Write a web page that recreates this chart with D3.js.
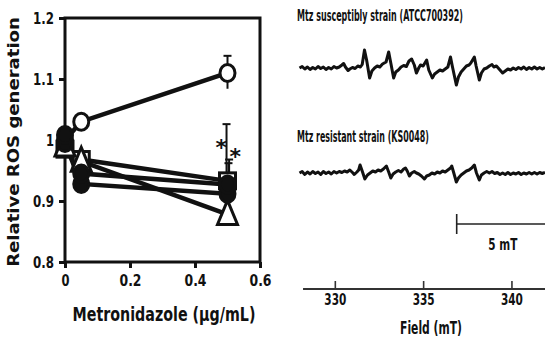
<!DOCTYPE html>
<html>
<head>
<meta charset="utf-8">
<script src="https://cdn.jsdelivr.net/npm/d3@7"></script>
<style>
  body { margin: 0; background: #fff; }
  svg { display: block; }
  text { font-family: "DejaVu Sans", Verdana, sans-serif; font-weight: bold; fill: #111; }
</style>
</head>
<body>
<div id="chart"></div>
<script>
// ---- left panel: ROS generation vs metronidazole ----
const doses = [0, 0.05, 0.5];
const openCircle = [1.0, 1.03, 1.11];
const openSquare = [0.985, 0.968, 0.933];
const openTriangle = [0.99, 0.965, 0.878];
const filledCircleB = [0.995, 0.928, 0.912];
const filledCircle = [1.008, 0.945, 0.927];
// error bars at 0.5 µg/mL: [x, low, high]
const errBars = [[0.5, 1.084, 1.138], [0.497, 0.933, 1.026], [0.505, 0.927, 0.968], [0.503, 0.912, 0.962]];
const stars = [[0.481, 0.997], [0.524, 0.982]];
const yTicks = [0.8, 0.9, 1.0, 1.1, 1.2];
const yTickLabels = ['0.8', '0.9', '1', '1.1', '1.2'];
const xTicks = [0, 0.2, 0.4, 0.6];
const xTickLabels = ['0', '0.2', '0.4', '0.6'];

// ---- right panel: ESR spectra [field mT, intensity] ----
const susceptible = [
  [328.0,0],[328.15,1.5],[328.3,-1],[328.45,1],[328.6,-1.5],[328.75,0.5],[328.9,-1],[329.05,1.5],
  [329.2,-0.5],[329.35,1],[329.5,-1.5],[329.65,0.5],[329.8,-1],[329.95,1.5],[330.1,0],[330.25,1],
  [330.4,3],[330.5,4.5],[330.6,1],[330.75,-2.5],[330.85,-1],[331.0,0.5],[331.15,-0.5],[331.3,2],
  [331.45,1],[331.55,3.5],[331.68,18],[331.8,8],[331.97,-10],[332.1,-3],[332.25,0],[332.4,2],
  [332.55,1],[332.7,4],[332.9,6],[333.05,16],[333.18,4],[333.33,-10],[333.45,-4],[333.6,-2],
  [333.75,1],[333.9,2.5],[334.05,1.5],[334.2,7],[334.35,9],[334.5,3],[334.62,-5],[334.75,0],
  [334.85,3],[335.0,2],[335.2,8],[335.32,-2],[335.52,-10],[335.65,-6],[335.8,-4],[335.95,-2],
  [336.1,-3],[336.25,-1],[336.4,1],[336.55,11],[336.65,2],[336.88,-17],[337.0,-9],[337.15,-4],
  [337.3,-1],[337.45,2],[337.6,3],[337.7,5],[337.9,11],[338.0,2],[338.18,-12],[338.3,-5],
  [338.45,-1],[338.6,0],[338.75,2],[338.9,3.5],[339.0,1],[339.15,2],[339.3,-1],[339.5,-5],
  [339.65,-3],[339.8,-1],[339.95,-2],[340.1,0],[340.25,-1.5],[340.4,0.5],[340.55,-1],[340.7,1],
  [340.85,-1.5],[341.0,0.5],[341.15,-1],[341.3,1],[341.45,-1],[341.6,0.5],[341.75,-1],[341.9,0.5]
];
const resistant = [
  [328.0,0],[328.15,1.5],[328.3,-1.5],[328.45,1],[328.6,-1],[328.75,1.5],[328.9,-0.5],[329.05,1],
  [329.2,-1.5],[329.35,1.5],[329.5,-0.5],[329.65,1],[329.8,-1],[329.95,1.5],[330.1,0],[330.25,1.5],
  [330.4,0.5],[330.55,2],[330.7,1],[330.85,3],[331.0,0.5],[331.1,-1.5],[331.25,1],[331.35,3],
  [331.43,8],[331.55,2],[331.7,-6],[331.85,-2],[332.0,0],[332.15,2],[332.3,1],[332.45,3],
  [332.6,2],[332.75,4],[332.92,7],[333.05,1],[333.17,-5],[333.3,-1],[333.45,1],[333.6,2.5],
  [333.75,1],[333.9,4],[334.0,5],[334.1,2],[334.22,-3],[334.35,0],[334.5,1.5],[334.62,0],
  [334.75,-1],[334.9,-3],[335.07,-6],[335.2,-3],[335.35,-2],[335.5,0],[335.65,-1],[335.8,1],
  [335.95,0],[336.1,2],[336.25,1],[336.4,3],[336.55,5],[336.62,7],[336.72,1],[336.88,-9],
  [337.0,-5],[337.15,-2],[337.3,0],[337.45,2],[337.6,3],[337.75,5],[337.9,8],[338.02,0],
  [338.18,-7],[338.3,-2],[338.45,0],[338.6,1.5],[338.75,0],[338.9,1.5],[339.05,-0.5],[339.2,0.5],
  [339.35,-1.5],[339.5,0],[339.65,-1.5],[339.8,0.5],[339.95,-1.5],[340.1,0],[340.25,-1],[340.4,0.5],
  [340.55,-1.5],[340.7,0],[340.85,-1],[341.0,0.5],[341.15,-1],[341.3,0.5],[341.45,-1],[341.6,0.5],
  [341.75,-0.5],[341.9,0.5]
];
const fieldTicks = [330, 335, 340];
const scaleBar = [336.9, 341.9]; // 5 mT

const W = 545, H = 338;
const svg = d3.select('#chart').append('svg').attr('width', W).attr('height', H);

// squeeze a text horizontally so it spans `w` px (the source figure is narrow)
function fit(sel, w, px, py, rot) {
  const len = sel.node().getComputedTextLength();
  const s = w / len;
  sel.attr('x', 0).attr('y', 0)
    .attr('transform', rot ? `translate(${px},${py}) scale(0.85,${s}) rotate(-90)`
                           : `translate(${px},${py}) scale(${s},1)`);
  return sel;
}
function fitTicks(g, widthOf) {
  g.selectAll('.tick').each(function(d, i) {
    const t = d3.select(this).select('text');
    const len = t.node().getComputedTextLength();
    const s = widthOf(i) / len;
    const tx = +t.attr('x') || 0;
    const ty = +t.attr('y') || 0;
    t.attr('transform', `translate(${tx},${ty}) scale(${s},1)`).attr('x', 0).attr('y', 0);
  });
}

// scales for left panel
const x = d3.scaleLinear().domain([0, 0.6]).range([65, 260]);
const y = d3.scaleLinear().domain([0.8, 1.2]).range([262, 18]);

const left = svg.append('g');

// frame
left.append('rect')
  .attr('x', x(0)).attr('y', y(1.2))
  .attr('width', x(0.6) - x(0)).attr('height', y(0.8) - y(1.2))
  .attr('fill', 'none').attr('stroke', '#111').attr('stroke-width', 3);

const yAxis = d3.axisLeft(y).tickValues(yTicks).tickSize(6).tickPadding(5)
  .tickFormat((d, i) => yTickLabels[i]);
const yg = left.append('g').attr('transform', `translate(${x(0)},0)`).call(yAxis);
yg.select('.domain').remove();
yg.selectAll('line').attr('stroke', '#111').attr('stroke-width', 3);
yg.selectAll('text').attr('font-size', 16).attr('fill', '#111');
fitTicks(yg, i => yTickLabels[i].length === 1 ? 8 : 21);

const xAxis = d3.axisBottom(x).tickValues(xTicks).tickSize(6).tickPadding(7)
  .tickFormat((d, i) => xTickLabels[i]);
const xg = left.append('g').attr('transform', `translate(0,${y(0.8)})`).call(xAxis);
xg.select('.domain').remove();
xg.selectAll('line').attr('stroke', '#111').attr('stroke-width', 3);
xg.selectAll('text').attr('font-size', 16).attr('fill', '#111');
fitTicks(xg, i => xTickLabels[i].length === 1 ? 8 : 22);

// axis titles
fit(left.append('text').attr('text-anchor', 'middle').attr('font-size', 19)
  .text('Relative ROS generation'), 250, 19, (y(0.8) + y(1.2)) / 2 + 2, true);
fit(left.append('text').attr('text-anchor', 'middle').attr('font-size', 19)
  .text('Metronidazole (µg/mL)'), 183, 164, 321);

// error bars
errBars.forEach(([ex, lo, hi]) => {
  left.append('line').attr('x1', x(ex)).attr('x2', x(ex))
    .attr('y1', y(lo)).attr('y2', y(hi)).attr('stroke', '#111').attr('stroke-width', 2);
  left.append('line').attr('x1', x(ex) - 4).attr('x2', x(ex) + 4)
    .attr('y1', y(hi)).attr('y2', y(hi)).attr('stroke', '#111').attr('stroke-width', 2);
});

const series = [
  {vals: openCircle, shape: 'circle', fill: '#fff'},
  {vals: openSquare, shape: 'square', fill: '#fff'},
  {vals: openTriangle, shape: 'triangle', fill: '#fff'},
  {vals: filledCircleB, shape: 'circle', fill: '#111'},
  {vals: filledCircle, shape: 'circle', fill: '#111'}
];

const line = d3.line().x(d => x(d[0])).y(d => y(d[1]));
series.forEach(s => {
  left.append('path')
    .datum(doses.map((d, i) => [d, s.vals[i]]))
    .attr('fill', 'none').attr('stroke', '#111').attr('stroke-width', 4.5)
    .attr('d', line);
});

series.forEach(s => {
  const pts = doses.map((d, i) => [d, s.vals[i]]);
  const g = left.append('g');
  if (s.shape === 'circle') {
    g.selectAll('ellipse').data(pts).enter().append('ellipse')
      .attr('cx', d => x(d[0])).attr('cy', d => y(d[1]))
      .attr('rx', 7.5).attr('ry', 8.5)
      .attr('fill', s.fill).attr('stroke', '#111').attr('stroke-width', 3);
  } else if (s.shape === 'square') {
    g.selectAll('rect').data(pts).enter().append('rect')
      .attr('x', d => x(d[0]) - 8).attr('y', d => y(d[1]) - 8)
      .attr('width', 16).attr('height', 16)
      .attr('fill', s.fill).attr('stroke', '#111').attr('stroke-width', 3);
  } else {
    g.selectAll('path').data(pts).enter().append('path')
      .attr('d', d => {
        const cx = x(d[0]), cy = y(d[1]);
        return `M${cx},${cy - 14}L${cx + 10},${cy + 10}L${cx - 10},${cy + 10}Z`;
      })
      .attr('fill', s.fill).attr('stroke', '#111').attr('stroke-width', 3)
      .attr('stroke-linejoin', 'miter');
  }
});

// significance stars
left.selectAll('.star').data(stars).enter().append('text')
  .attr('class', 'star')
  .attr('x', d => x(d[0])).attr('y', d => y(d[1]) + 13)
  .attr('text-anchor', 'middle').attr('font-size', 22)
  .text('*');

// ---- right panel ----
const fx = d3.scaleLinear().domain([328.0, 341.9]).range([299.5, 545]);
const y1 = d3.scaleLinear().domain([-20, 20]).range([88, 48]);
const y2 = d3.scaleLinear().domain([-20, 20]).range([193, 153]);

const right = svg.append('g');

fit(right.append('text').attr('font-size', 15)
  .text('Mtz susceptibly strain (ATCC700392)'), 166, 297, 21);
fit(right.append('text').attr('font-size', 15)
  .text('Mtz resistant strain (KS0048)'), 132, 297, 142);

const trace1 = d3.line().x(d => fx(d[0])).y(d => y1(d[1]));
const trace2 = d3.line().x(d => fx(d[0])).y(d => y2(d[1]));
right.append('path').datum(susceptible)
  .attr('fill', 'none').attr('stroke', '#111').attr('stroke-width', 3)
  .attr('stroke-linejoin', 'round').attr('d', trace1);
right.append('path').datum(resistant)
  .attr('fill', 'none').attr('stroke', '#111').attr('stroke-width', 3)
  .attr('stroke-linejoin', 'round').attr('d', trace2);

// 5 mT scale bar
const barY = 224;
right.append('line').attr('x1', fx(scaleBar[0])).attr('x2', fx(scaleBar[1]))
  .attr('y1', barY).attr('y2', barY).attr('stroke', '#222').attr('stroke-width', 1.6);
right.append('line').attr('x1', fx(scaleBar[0])).attr('x2', fx(scaleBar[0]))
  .attr('y1', barY - 10).attr('y2', barY + 10).attr('stroke', '#222').attr('stroke-width', 1.6);
fit(right.append('text').attr('text-anchor', 'middle').attr('font-size', 16)
  .text('5 mT'), 29, fx((scaleBar[0] + scaleBar[1]) / 2) + 2, 250);

// field axis
const axisY = 289;
const fAxis = d3.axisBottom(fx).tickValues(fieldTicks).tickSize(-8).tickPadding(5)
  .tickFormat(d3.format('d'));
const fg = right.append('g').attr('transform', `translate(0,${axisY})`).call(fAxis);
fg.select('.domain').remove();
fg.append('line').attr('x1', fx(328.2)).attr('x2', fx(341.9))
  .attr('stroke', '#333').attr('stroke-width', 2);
fg.selectAll('.tick line').attr('stroke', '#333').attr('stroke-width', 1.6);
fg.selectAll('.tick text').attr('font-size', 16).attr('fill', '#111');
fitTicks(fg, () => 22);

fit(right.append('text').attr('text-anchor', 'middle').attr('font-size', 17)
  .text('Field (mT)'), 62, 431, 334);
</script>
</body>
</html>
